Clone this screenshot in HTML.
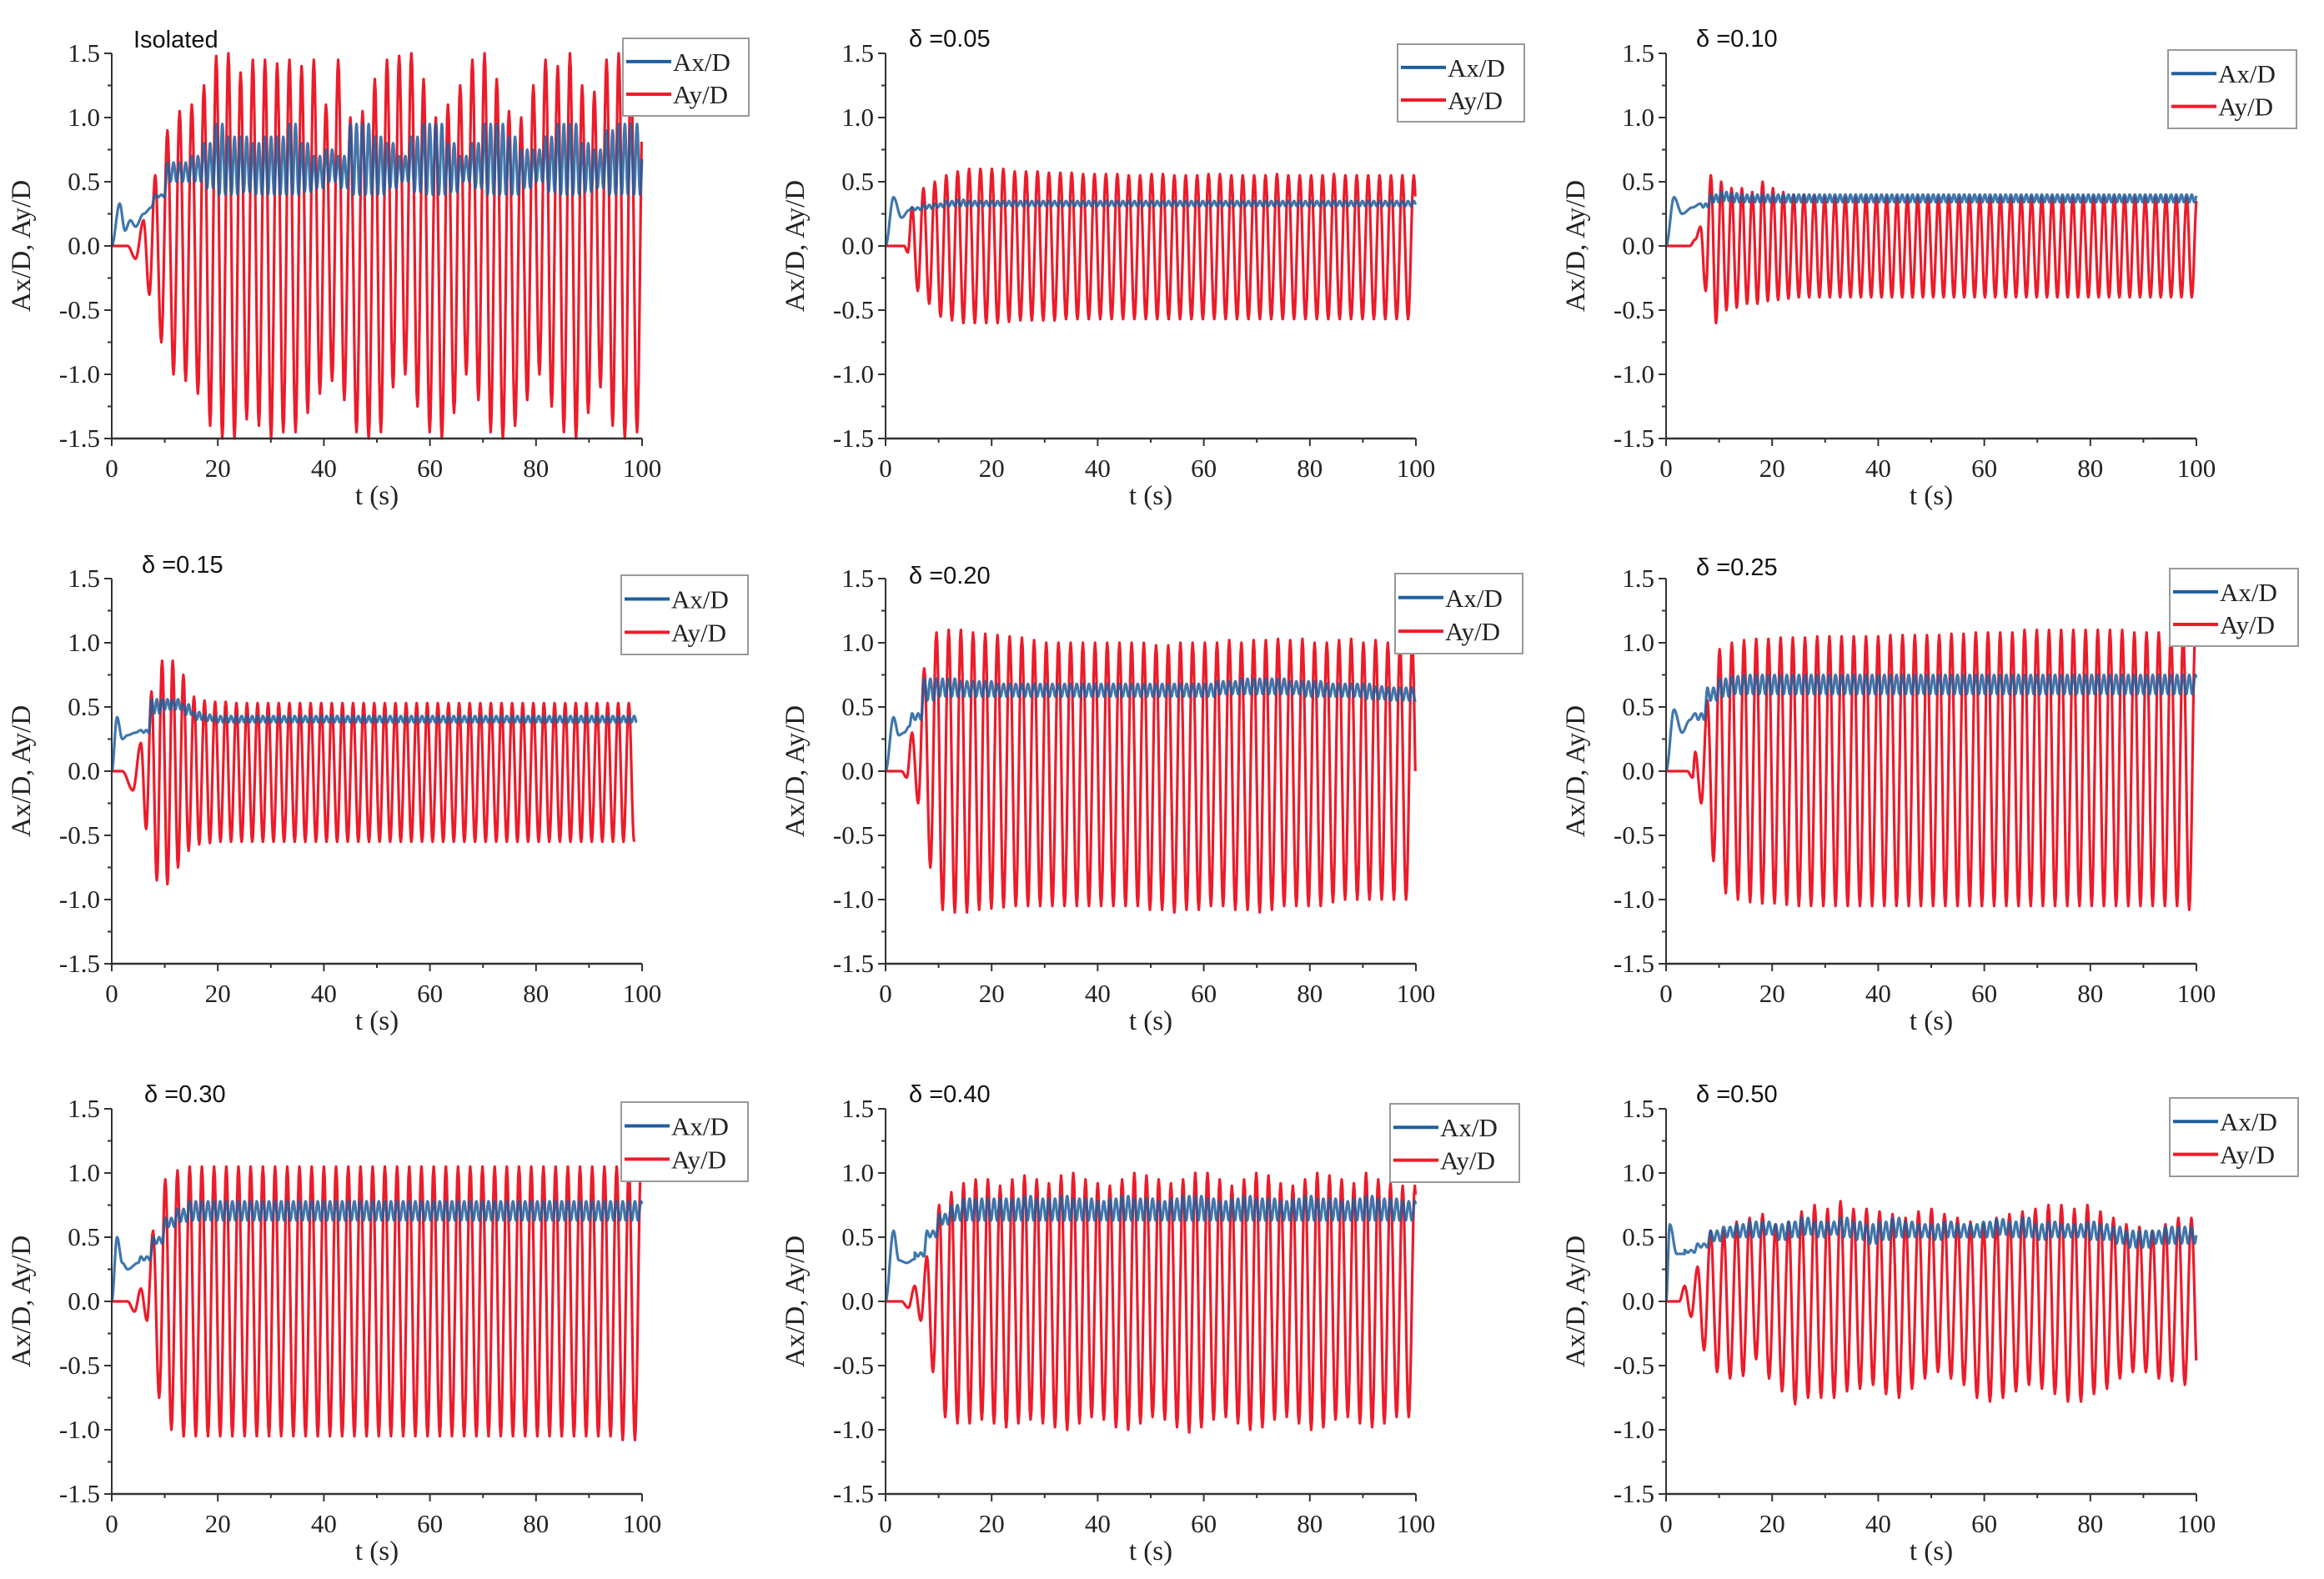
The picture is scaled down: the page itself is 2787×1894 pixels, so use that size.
<!DOCTYPE html>
<html><head><meta charset="utf-8">
<style>
html,body{margin:0;padding:0;background:#fff;}
svg{display:block;}
.tick{font-family:"Liberation Serif",serif;font-size:31px;fill:#222;}
.ttl{font-family:"Liberation Sans",sans-serif;font-size:29px;fill:#111;}
.ax{font-family:"Liberation Serif",serif;font-size:33px;fill:#222;}
.leg{font-family:"Liberation Serif",serif;font-size:31px;fill:#222;}
</style></head>
<body>
<svg id="fig" width="2787" height="1894" viewBox="0 0 2787 1894" xmlns="http://www.w3.org/2000/svg"></svg>
<script>
// ---- shared axis data ----
const xTicks = [0,20,40,60,80,100];
const yTicks = [-1.5,-1.0,-0.5,0.0,0.5,1.0,1.5];
const yTickLabels = ["-1.5","-1.0","-0.5","0.0","0.5","1.0","1.5"];
const titles = ["Isolated","δ =0.05","δ =0.10","δ =0.15","δ =0.20","δ =0.25","δ =0.30","δ =0.40","δ =0.50"];

// ---- Isolated ----
const iso_period = 2.3, iso_start = 8.2;
const iso_earlyT = [0,3,4.5,6,7.1];
const iso_earlyAy = [0,0,-0.1,0.2,-0.38];
const iso_earlyAxT = [0,1.5,2.5,3.5,4.5,6,7.5];
const iso_earlyAx = [0,0.33,0.12,0.2,0.15,0.25,0.3];
const iso_ayPk = [0.55,0.9,1.05,1.1,1.25,1.48,1.5,1.35,1.45,1.45,1.42,1.45,1.4,1.45,1.1,1.45,1.0,1.05,1.3,1.45,1.48,1.5,1.3,1.0,1.1,1.25,1.45,1.5,1.3,1.05,1.0,1.25,1.45,1.4,1.5,1.25,1.2,1.45,1.5,1.35,1.2,1.4];
const iso_ayTr = [-0.75,-1.0,-1.05,-1.15,-1.4,-1.5,-1.5,-1.35,-1.4,-1.5,-1.45,-1.45,-1.3,-1.15,-1.05,-1.2,-1.45,-1.5,-1.45,-1.1,-1.0,-1.25,-1.45,-1.5,-1.3,-1.0,-1.2,-1.45,-1.5,-1.4,-1.2,-1.0,-1.25,-1.45,-1.5,-1.3,-1.1,-1.4,-1.5,-1.45,-1.15,-1.1];
const iso_axHi = [0.4,0.65,0.65,0.7,0.8,0.95,0.85,0.85,0.8,0.85,0.85,0.95,0.8,0.7,0.75,0.7,0.95,0.95,0.85,0.8,0.7,0.85,0.95,0.95,0.8,0.7,0.8,0.95,0.95,0.85,0.75,0.75,0.85,0.95,0.95,0.8,0.75,0.9,0.95,0.95,0.8,0.7];
const iso_axLo = [0.38,0.5,0.5,0.5,0.45,0.4,0.4,0.42,0.4,0.4,0.4,0.4,0.42,0.45,0.5,0.45,0.4,0.4,0.4,0.45,0.5,0.42,0.4,0.4,0.42,0.5,0.45,0.4,0.4,0.4,0.45,0.5,0.42,0.4,0.4,0.42,0.45,0.4,0.4,0.4,0.42,0.4];

// ---- δ = 0.05 ----
const d05_period = 2.15, d05_start = 5.0;
const d05_earlyT = [0,3.5,4.2];
const d05_earlyAy = [0,0,-0.05];
const d05_earlyAxT = [0,1.5,3,4.5];
const d05_earlyAx = [0,0.38,0.22,0.28];
const d05_ayPk = [0.3,0.45,0.5,0.55,0.58,0.6,0.6,0.6,0.6,0.58,0.58,0.58,0.57,0.57,0.57,0.56,0.56,0.56,0.56,0.55,0.55,0.56,0.56,0.55,0.55,0.55,0.56,0.56,0.55,0.55,0.55,0.55,0.56,0.55,0.55,0.55,0.55,0.56,0.55,0.55,0.55,0.55,0.55,0.55,0.55,0.55];
const d05_ayTr = [-0.35,-0.45,-0.55,-0.58,-0.6,-0.6,-0.6,-0.6,-0.59,-0.58,-0.58,-0.58,-0.58,-0.57,-0.57,-0.57,-0.57,-0.57,-0.57,-0.57,-0.57,-0.57,-0.57,-0.57,-0.57,-0.57,-0.57,-0.57,-0.57,-0.57,-0.57,-0.57,-0.57,-0.57,-0.57,-0.57,-0.57,-0.57,-0.57,-0.57,-0.57,-0.57,-0.57,-0.57,-0.57,-0.57];
const d05_axHi = [0.3,0.32,0.33,0.35,0.36,0.35,0.35,0.35,0.35,0.35,0.35,0.35,0.35,0.35,0.35,0.35,0.35,0.35,0.35,0.35,0.35,0.35,0.35,0.35,0.35,0.35,0.35,0.35,0.35,0.35,0.35,0.35,0.35,0.35,0.35,0.35,0.35,0.35,0.35,0.35,0.35,0.35,0.35,0.35,0.35,0.35];
const d05_axLo = [0.28,0.29,0.3,0.31,0.31,0.31,0.31,0.31,0.31,0.31,0.31,0.31,0.31,0.31,0.31,0.31,0.31,0.31,0.31,0.31,0.31,0.31,0.31,0.31,0.31,0.31,0.31,0.31,0.31,0.31,0.31,0.31,0.31,0.31,0.31,0.31,0.31,0.31,0.31,0.31,0.31,0.31,0.31,0.31,0.31,0.31];

// ---- δ = 0.10 ----
const d10_period = 1.95, d10_start = 6.5;
const d10_earlyT = [0,4.5,5.5];
const d10_earlyAy = [0,0,0.05];
const d10_earlyAxT = [0,1.5,3,5];
const d10_earlyAx = [0,0.38,0.25,0.3];
const d10_ayPk = [0.15,0.55,0.5,0.45,0.45,0.42,0.5,0.45,0.42,0.4,0.4,0.39,0.38,0.38,0.38,0.38,0.38,0.38,0.38,0.38,0.38,0.38,0.38,0.38,0.38,0.38,0.38,0.38,0.38,0.38,0.38,0.38,0.38,0.38,0.38,0.38,0.38,0.38,0.38,0.38,0.38,0.38,0.38,0.38,0.38,0.38,0.38,0.38,0.38];
const d10_ayTr = [-0.35,-0.6,-0.5,-0.48,-0.45,-0.45,-0.43,-0.42,-0.41,-0.4,-0.4,-0.4,-0.4,-0.4,-0.4,-0.4,-0.4,-0.4,-0.4,-0.4,-0.4,-0.4,-0.4,-0.4,-0.4,-0.4,-0.4,-0.4,-0.4,-0.4,-0.4,-0.4,-0.4,-0.4,-0.4,-0.4,-0.4,-0.4,-0.4,-0.4,-0.4,-0.4,-0.4,-0.4,-0.4,-0.4,-0.4,-0.4,-0.4];
const d10_axHi = [0.33,0.4,0.42,0.41,0.4,0.4,0.4,0.4,0.4,0.4,0.4,0.4,0.4,0.4,0.4,0.4,0.4,0.4,0.4,0.4,0.4,0.4,0.4,0.4,0.4,0.4,0.4,0.4,0.4,0.4,0.4,0.4,0.4,0.4,0.4,0.4,0.4,0.4,0.4,0.4,0.4,0.4,0.4,0.4,0.4,0.4,0.4,0.4,0.4];
const d10_axLo = [0.3,0.34,0.35,0.34,0.34,0.34,0.34,0.34,0.34,0.34,0.34,0.34,0.34,0.34,0.34,0.34,0.34,0.34,0.34,0.34,0.34,0.34,0.34,0.34,0.34,0.34,0.34,0.34,0.34,0.34,0.34,0.34,0.34,0.34,0.34,0.34,0.34,0.34,0.34,0.34,0.34,0.34,0.34,0.34,0.34,0.34,0.34,0.34,0.34];

// ---- δ = 0.15 ----
const d15_period = 2.0, d15_start = 5.5;
const d15_earlyT = [0,2,4];
const d15_earlyAy = [0,0,-0.15];
const d15_earlyAxT = [0,1,2,3,4.5];
const d15_earlyAx = [0,0.42,0.25,0.28,0.3];
const d15_ayPk = [0.22,0.62,0.86,0.86,0.75,0.58,0.55,0.54,0.54,0.53,0.53,0.53,0.53,0.53,0.53,0.53,0.53,0.53,0.53,0.53,0.53,0.53,0.53,0.53,0.53,0.53,0.53,0.53,0.53,0.53,0.53,0.53,0.53,0.53,0.53,0.53,0.53,0.53,0.53,0.53,0.53,0.53,0.53,0.53,0.53,0.53,0.53];
const d15_ayTr = [-0.45,-0.85,-0.88,-0.75,-0.62,-0.57,-0.56,-0.55,-0.55,-0.55,-0.55,-0.55,-0.55,-0.55,-0.55,-0.55,-0.55,-0.55,-0.55,-0.55,-0.55,-0.55,-0.55,-0.55,-0.55,-0.55,-0.55,-0.55,-0.55,-0.55,-0.55,-0.55,-0.55,-0.55,-0.55,-0.55,-0.55,-0.55,-0.55,-0.55,-0.55,-0.55,-0.55,-0.55,-0.55,-0.55,-0.55];
const d15_axHi = [0.32,0.56,0.56,0.56,0.52,0.46,0.44,0.43,0.43,0.43,0.43,0.43,0.43,0.43,0.43,0.43,0.43,0.43,0.43,0.43,0.43,0.43,0.43,0.43,0.43,0.43,0.43,0.43,0.43,0.43,0.43,0.43,0.43,0.43,0.43,0.43,0.43,0.43,0.43,0.43,0.43,0.43,0.43,0.43,0.43,0.43,0.43];
const d15_axLo = [0.3,0.45,0.48,0.48,0.44,0.4,0.39,0.38,0.38,0.38,0.38,0.38,0.38,0.38,0.38,0.38,0.38,0.38,0.38,0.38,0.38,0.38,0.38,0.38,0.38,0.38,0.38,0.38,0.38,0.38,0.38,0.38,0.38,0.38,0.38,0.38,0.38,0.38,0.38,0.38,0.38,0.38,0.38,0.38,0.38,0.38,0.38];

// ---- δ = 0.20 ----
const d20_period = 2.3, d20_start = 5.0;
const d20_earlyT = [0,3,4];
const d20_earlyAy = [0,0,-0.05];
const d20_earlyAxT = [0,1.5,2.5,3.5,4.5];
const d20_earlyAx = [0,0.42,0.28,0.3,0.35];
const d20_ayPk = [0.3,0.8,1.08,1.1,1.1,1.08,1.07,1.06,1.05,1.04,1.02,1.0,1.0,1.0,1.0,1.0,1.0,1.0,1.0,1.0,0.98,0.98,1.0,1.0,1.0,1.0,1.02,1.0,1.02,1.02,1.03,1.02,1.03,1.0,1.0,1.02,1.03,1.0,1.02,1.0,1.0,1.0];
const d20_ayTr = [-0.25,-0.75,-1.08,-1.1,-1.1,-1.08,-1.07,-1.06,-1.05,-1.05,-1.05,-1.05,-1.05,-1.05,-1.05,-1.05,-1.05,-1.05,-1.05,-1.08,-1.08,-1.1,-1.08,-1.08,-1.05,-1.05,-1.08,-1.08,-1.1,-1.08,-1.05,-1.05,-1.05,-1.05,-1.02,-1.0,-1.0,-1.0,-1.0,-1.0,-1.0,-1.0];
const d20_axHi = [0.45,0.72,0.72,0.72,0.7,0.7,0.7,0.68,0.68,0.68,0.68,0.68,0.68,0.68,0.68,0.68,0.68,0.68,0.68,0.68,0.68,0.68,0.68,0.68,0.68,0.7,0.7,0.72,0.72,0.72,0.72,0.7,0.7,0.7,0.68,0.68,0.68,0.68,0.66,0.65,0.65,0.65];
const d20_axLo = [0.4,0.55,0.58,0.58,0.58,0.58,0.58,0.58,0.58,0.58,0.58,0.58,0.58,0.58,0.58,0.58,0.58,0.58,0.58,0.58,0.58,0.58,0.58,0.58,0.58,0.6,0.6,0.6,0.6,0.6,0.6,0.6,0.58,0.58,0.58,0.58,0.58,0.56,0.56,0.55,0.55,0.55];

// ---- δ = 0.25 ----
const d25_period = 2.3, d25_start = 5.5;
const d25_earlyT = [0,4,5];
const d25_earlyAy = [0,0,-0.05];
const d25_earlyAxT = [0,1.5,3,4.5];
const d25_earlyAx = [0,0.48,0.3,0.4];
const d25_ayPk = [0.15,0.55,0.95,1.0,1.02,1.03,1.03,1.04,1.04,1.04,1.05,1.05,1.05,1.05,1.05,1.05,1.06,1.06,1.06,1.06,1.06,1.07,1.07,1.08,1.08,1.08,1.08,1.1,1.1,1.1,1.1,1.1,1.1,1.1,1.1,1.1,1.08,1.08,1.08,1.08,1.08,1.08];
const d25_ayTr = [-0.25,-0.7,-0.95,-1.0,-1.02,-1.03,-1.03,-1.04,-1.05,-1.05,-1.05,-1.05,-1.05,-1.05,-1.05,-1.05,-1.05,-1.05,-1.05,-1.05,-1.05,-1.05,-1.05,-1.05,-1.05,-1.05,-1.05,-1.05,-1.05,-1.05,-1.05,-1.05,-1.05,-1.05,-1.05,-1.05,-1.05,-1.05,-1.05,-1.05,-1.08,-1.08];
const d25_axHi = [0.45,0.65,0.72,0.74,0.75,0.75,0.75,0.75,0.75,0.75,0.75,0.75,0.75,0.75,0.75,0.75,0.75,0.75,0.75,0.75,0.75,0.75,0.75,0.75,0.75,0.75,0.75,0.75,0.75,0.75,0.75,0.75,0.75,0.75,0.75,0.75,0.75,0.75,0.75,0.75,0.75,0.75];
const d25_axLo = [0.4,0.55,0.58,0.6,0.6,0.6,0.6,0.6,0.6,0.6,0.6,0.6,0.6,0.6,0.6,0.6,0.6,0.6,0.6,0.6,0.6,0.6,0.6,0.6,0.6,0.6,0.6,0.6,0.6,0.6,0.6,0.6,0.6,0.6,0.6,0.6,0.6,0.6,0.6,0.6,0.6,0.6];

// ---- δ = 0.30 ----
const d30_period = 2.3, d30_start = 5.5;
const d30_earlyT = [0,3,4.3];
const d30_earlyAy = [0,0,-0.08];
const d30_earlyAxT = [0,1,2,3,5];
const d30_earlyAx = [0,0.5,0.3,0.25,0.3];
const d30_ayPk = [0.1,0.55,0.95,1.02,1.05,1.05,1.05,1.05,1.05,1.05,1.05,1.05,1.05,1.05,1.05,1.05,1.05,1.05,1.05,1.05,1.05,1.05,1.05,1.05,1.05,1.05,1.05,1.05,1.05,1.05,1.05,1.05,1.05,1.05,1.05,1.05,1.05,1.05,1.05,1.05,1.05,1.05];
const d30_ayTr = [-0.15,-0.75,-1.0,-1.05,-1.05,-1.05,-1.05,-1.05,-1.05,-1.05,-1.05,-1.05,-1.05,-1.05,-1.05,-1.05,-1.05,-1.05,-1.05,-1.05,-1.05,-1.05,-1.05,-1.05,-1.05,-1.05,-1.05,-1.05,-1.05,-1.05,-1.05,-1.05,-1.05,-1.05,-1.05,-1.05,-1.05,-1.05,-1.05,-1.08,-1.08,-1.05];
const d30_axHi = [0.35,0.5,0.65,0.72,0.78,0.78,0.78,0.78,0.78,0.78,0.78,0.78,0.78,0.78,0.78,0.78,0.78,0.78,0.78,0.78,0.78,0.78,0.78,0.78,0.78,0.78,0.78,0.78,0.78,0.78,0.78,0.78,0.78,0.78,0.78,0.78,0.78,0.78,0.78,0.78,0.78,0.78];
const d30_axLo = [0.32,0.45,0.58,0.62,0.63,0.63,0.63,0.63,0.63,0.63,0.63,0.63,0.63,0.63,0.63,0.63,0.63,0.63,0.63,0.63,0.63,0.63,0.63,0.63,0.63,0.63,0.63,0.63,0.63,0.63,0.63,0.63,0.63,0.63,0.63,0.63,0.63,0.63,0.63,0.63,0.63,0.63];

// ---- δ = 0.40 ----
const d40_period = 2.3, d40_start = 5.5;
const d40_earlyT = [0,3,4.3];
const d40_earlyAy = [0,0,-0.05];
const d40_earlyAxT = [0,1.5,2.5,4,5.5];
const d40_earlyAx = [0,0.55,0.32,0.3,0.33];
const d40_ayPk = [0.12,0.35,0.75,0.85,0.92,0.95,0.95,0.9,0.95,0.98,0.95,0.92,0.98,1.0,0.95,0.92,0.9,0.95,1.0,0.98,0.95,0.92,0.95,1.0,1.0,0.95,0.9,0.95,1.0,0.98,0.92,0.9,0.95,1.0,0.98,0.95,0.92,1.0,0.95,0.92,0.9,0.9];
const d40_ayTr = [-0.15,-0.55,-0.9,-0.95,-0.95,-0.92,-0.95,-0.98,-0.95,-0.92,-0.95,-0.98,-1.0,-0.95,-0.9,-0.92,-0.98,-1.0,-0.95,-0.9,-0.92,-0.98,-1.02,-0.98,-0.92,-0.9,-0.95,-1.0,-0.98,-0.92,-0.9,-0.95,-1.0,-0.98,-0.92,-0.9,-0.95,-0.98,-0.95,-0.9,-0.9,-0.88];
const d40_axHi = [0.38,0.55,0.68,0.75,0.8,0.8,0.8,0.8,0.8,0.82,0.8,0.8,0.82,0.8,0.8,0.78,0.8,0.82,0.8,0.8,0.78,0.8,0.82,0.82,0.8,0.78,0.8,0.82,0.8,0.8,0.78,0.8,0.82,0.8,0.8,0.78,0.8,0.82,0.8,0.8,0.78,0.78];
const d40_axLo = [0.35,0.5,0.6,0.63,0.63,0.63,0.63,0.63,0.63,0.63,0.63,0.63,0.63,0.63,0.63,0.63,0.63,0.63,0.63,0.63,0.63,0.63,0.63,0.63,0.63,0.63,0.63,0.63,0.63,0.63,0.63,0.63,0.63,0.63,0.63,0.63,0.63,0.63,0.63,0.63,0.63,0.63];

// ---- δ = 0.50 ----
const d50_period = 2.45, d50_start = 3.5;
const d50_earlyT = [0,2.5];
const d50_earlyAy = [0,0];
const d50_earlyAxT = [0,0.7,2,3.5];
const d50_earlyAx = [0,0.6,0.37,0.37];
const d50_ayPk = [0.12,0.27,0.55,0.55,0.62,0.65,0.68,0.6,0.62,0.7,0.75,0.72,0.78,0.72,0.72,0.7,0.68,0.65,0.7,0.72,0.68,0.65,0.62,0.6,0.65,0.68,0.7,0.72,0.75,0.75,0.72,0.75,0.7,0.65,0.6,0.58,0.55,0.6,0.65,0.65,0.65];
const d50_ayTr = [-0.12,-0.38,-0.55,-0.6,-0.58,-0.45,-0.6,-0.7,-0.8,-0.75,-0.75,-0.75,-0.7,-0.68,-0.65,-0.72,-0.75,-0.68,-0.6,-0.55,-0.6,-0.65,-0.75,-0.78,-0.75,-0.7,-0.65,-0.68,-0.72,-0.78,-0.78,-0.72,-0.68,-0.6,-0.55,-0.55,-0.6,-0.62,-0.65,-0.65,-0.6];
const d50_axHi = [0.4,0.45,0.55,0.58,0.6,0.62,0.62,0.6,0.62,0.65,0.62,0.62,0.65,0.62,0.6,0.62,0.65,0.62,0.6,0.6,0.62,0.6,0.6,0.62,0.64,0.62,0.65,0.6,0.62,0.6,0.6,0.62,0.6,0.58,0.55,0.55,0.55,0.58,0.58,0.58,0.58];
const d50_axLo = [0.38,0.42,0.47,0.5,0.5,0.5,0.52,0.48,0.5,0.52,0.5,0.52,0.5,0.48,0.45,0.48,0.5,0.5,0.5,0.48,0.5,0.5,0.5,0.5,0.52,0.5,0.5,0.48,0.5,0.5,0.5,0.48,0.48,0.45,0.42,0.42,0.45,0.45,0.45,0.45,0.45];

const panelData = [
 {period:iso_period,start:iso_start,eT:iso_earlyT,eAy:iso_earlyAy,eXT:iso_earlyAxT,eAx:iso_earlyAx,pk:iso_ayPk,tr:iso_ayTr,hi:iso_axHi,lo:iso_axLo},
 {period:d05_period,start:d05_start,eT:d05_earlyT,eAy:d05_earlyAy,eXT:d05_earlyAxT,eAx:d05_earlyAx,pk:d05_ayPk,tr:d05_ayTr,hi:d05_axHi,lo:d05_axLo},
 {period:d10_period,start:d10_start,eT:d10_earlyT,eAy:d10_earlyAy,eXT:d10_earlyAxT,eAx:d10_earlyAx,pk:d10_ayPk,tr:d10_ayTr,hi:d10_axHi,lo:d10_axLo},
 {period:d15_period,start:d15_start,eT:d15_earlyT,eAy:d15_earlyAy,eXT:d15_earlyAxT,eAx:d15_earlyAx,pk:d15_ayPk,tr:d15_ayTr,hi:d15_axHi,lo:d15_axLo},
 {period:d20_period,start:d20_start,eT:d20_earlyT,eAy:d20_earlyAy,eXT:d20_earlyAxT,eAx:d20_earlyAx,pk:d20_ayPk,tr:d20_ayTr,hi:d20_axHi,lo:d20_axLo},
 {period:d25_period,start:d25_start,eT:d25_earlyT,eAy:d25_earlyAy,eXT:d25_earlyAxT,eAx:d25_earlyAx,pk:d25_ayPk,tr:d25_ayTr,hi:d25_axHi,lo:d25_axLo},
 {period:d30_period,start:d30_start,eT:d30_earlyT,eAy:d30_earlyAy,eXT:d30_earlyAxT,eAx:d30_earlyAx,pk:d30_ayPk,tr:d30_ayTr,hi:d30_axHi,lo:d30_axLo},
 {period:d40_period,start:d40_start,eT:d40_earlyT,eAy:d40_earlyAy,eXT:d40_earlyAxT,eAx:d40_earlyAx,pk:d40_ayPk,tr:d40_ayTr,hi:d40_axHi,lo:d40_axLo},
 {period:d50_period,start:d50_start,eT:d50_earlyT,eAy:d50_earlyAy,eXT:d50_earlyAxT,eAx:d50_earlyAx,pk:d50_ayPk,tr:d50_ayTr,hi:d50_axHi,lo:d50_axLo}
];

// ---- layout ----
const colX = [134,1062,1998];
const rowY = [64,694,1330];
const PW = 636, PH = 462;
const legendBoxes = [[747,46,151,93],[1676,53,152,93],[2600,60,154,94],[745,690,152,95],[1673,688,153,96],[2602,682,154,93],[745,1322,152,95],[1667,1324,155,94],[2602,1317,154,94]];
const titlePos = [[160,57],[1090,56],[2034,56],[170,687],[1090,700],[2034,690],[173,1322],[1090,1322],[2034,1322]];

const NS = "http://www.w3.org/2000/svg";
const svg = document.getElementById('fig');
function mk(tag, attrs, parent){const e=document.createElementNS(NS,tag);for(const k in attrs)e.setAttribute(k,attrs[k]);(parent||svg).appendChild(e);return e;}

function cosSeg(out, t0, v0, t1, v1){
  const n = 8;
  for(let i=1;i<=n;i++){const s=i/n;out.push([t0+(t1-t0)*s, v0+(v1-v0)*(1-Math.cos(Math.PI*s))/2]);}
}

function buildAy(d){
  const pts=[[d.eT[0],d.eAy[0]]];
  for(let i=1;i<d.eT.length;i++) cosSeg(pts,d.eT[i-1],d.eAy[i-1],d.eT[i],d.eAy[i]);
  let pt=d.eT[d.eT.length-1], pv=d.eAy[d.eAy.length-1];
  const n=Math.min(d.pk.length,d.tr.length);
  for(let k=0;k<n;k++){
    const tp=d.start+k*d.period, tt=tp+d.period/2;
    if(pt>=100) break;
    cosSeg(pts,pt,pv,tp,d.pk[k]); pt=tp; pv=d.pk[k];
    cosSeg(pts,pt,pv,tt,d.tr[k]); pt=tt; pv=d.tr[k];
  }
  return pts.filter(p=>p[0]<=100);
}
function buildAx(d){
  const pts=[[d.eXT[0],d.eAx[0]]];
  for(let i=1;i<d.eXT.length;i++) cosSeg(pts,d.eXT[i-1],d.eAx[i-1],d.eXT[i],d.eAx[i]);
  let pt=d.eXT[d.eXT.length-1], pv=d.eAx[d.eAx.length-1];
  const n=Math.min(d.hi.length,d.lo.length);
  for(let k=0;k<n;k++){
    for(let h=0;h<2;h++){
      const te=d.start+k*d.period+h*d.period/2;
      const tm=te+d.period/4;
      if(pt>=100) break;
      cosSeg(pts,pt,pv,te,d.hi[k]); pt=te; pv=d.hi[k];
      cosSeg(pts,pt,pv,tm,d.lo[k]); pt=tm; pv=d.lo[k];
    }
  }
  return pts.filter(p=>p[0]<=100);
}

panelData.forEach((d,idx)=>{
  const X0=colX[idx%3], Y0=rowY[Math.floor(idx/3)];
  const xs=t=>X0+t/100*PW;
  const ys=v=>Y0+(1.5-v)/3*PH;
  const g=mk('g',{});
  
  
  const cid='clip'+idx;
  const cp=mk('clipPath',{id:cid},g); mk('rect',{x:X0,y:Y0-2,width:PW+2,height:PH+4},cp);
  const ax=buildAx(d), ay=buildAy(d);
  const toPath=pts=>pts.map((p,i)=>(i?'L':'M')+xs(p[0]).toFixed(1)+' '+ys(p[1]).toFixed(1)).join('');
  const pAy=mk('path',{d:toPath(ay),fill:'none',stroke:'#ec1c2a','stroke-width':3.2,'stroke-linejoin':'round','clip-path':'url(#'+cid+')'},g);
  
  
  const pAx=mk('path',{d:toPath(ax),fill:'none',stroke:'#1f5f9e','stroke-width':3.2,'stroke-opacity':0.85,'stroke-linejoin':'round','clip-path':'url(#'+cid+')'},g);
  
  
  const yl=mk('line',{x1:X0,y1:Y0,x2:X0,y2:Y0+PH,stroke:'#333','stroke-width':2},g);
  
  
  const xl=mk('line',{x1:X0,y1:Y0+PH,x2:X0+PW,y2:Y0+PH,stroke:'#333','stroke-width':2.5},g);
  
  
  yTicks.forEach((v,i)=>{
    mk('line',{x1:X0-9,y1:ys(v),x2:X0,y2:ys(v),stroke:'#333','stroke-width':2},g);
    if(i<yTicks.length-1){const m=(v+yTicks[i+1])/2;mk('line',{x1:X0-5,y1:ys(m),x2:X0,y2:ys(m),stroke:'#333','stroke-width':2},g);}
    const t=mk('text',{x:X0-14,y:ys(v)+10,'text-anchor':'end',class:'tick'},g);t.textContent=yTickLabels[i];
    
    
  });
  xTicks.forEach((v,i)=>{
    mk('line',{x1:xs(v),y1:Y0+PH,x2:xs(v),y2:Y0+PH+9,stroke:'#333','stroke-width':2},g);
    if(i<xTicks.length-1){const m=(v+xTicks[i+1])/2;mk('line',{x1:xs(m),y1:Y0+PH,x2:xs(m),y2:Y0+PH+5,stroke:'#333','stroke-width':2},g);}
    const t=mk('text',{x:xs(v),y:Y0+PH+46,'text-anchor':'middle',class:'tick'},g);t.textContent=String(v);
    
    
  });
  const xt=mk('text',{x:X0+PW/2,y:Y0+PH+79,'text-anchor':'middle',class:'ax'},g);xt.textContent='t (s)';
  
  
  const cx=X0-98, cy=Y0+PH/2;
  const yt=mk('text',{x:cx,y:cy,'text-anchor':'middle',class:'ax',transform:'rotate(-90 '+cx+' '+cy+')'},g);yt.textContent='Ax/D, Ay/D';
  
  
  const tp=titlePos[idx];
  const tt=mk('text',{x:tp[0],y:tp[1],class:'ttl'},g);tt.textContent=titles[idx];
  
  
  const lb=legendBoxes[idx];
  const lg=mk('g',{},g);
  
  
  mk('rect',{x:lb[0],y:lb[1],width:lb[2],height:lb[3],fill:'#fff',stroke:'#999','stroke-width':2},lg);
  [['Ax/D','#1f5f9e'],['Ay/D','#ec1c2a']].forEach((e,j)=>{
    const yy=lb[1]+lb[3]*(j?0.72:0.3);
    const le=mk('g',{},lg);
    
    
    mk('line',{x1:lb[0]+4,y1:yy,x2:lb[0]+58,y2:yy,stroke:e[1],'stroke-width':4},le);
    const t=mk('text',{x:lb[0]+60,y:yy+11,class:'leg'},le);t.textContent=e[0];
  });
});
</script>
</body></html>
